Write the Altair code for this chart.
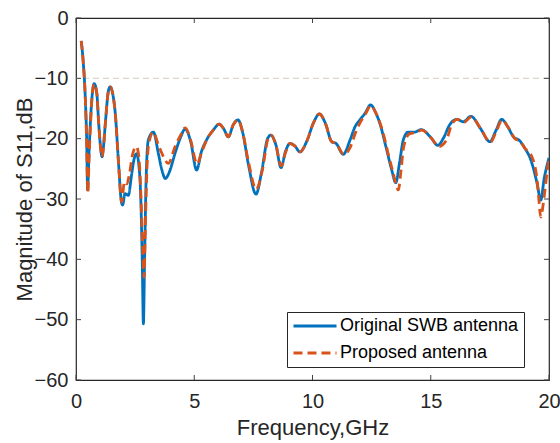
import altair as alt
import pandas as pd

# Original SWB antenna (blue)
blue_f = [0.22, 0.30, 0.39, 0.45, 0.49, 0.55, 0.60, 0.68, 0.77, 0.88, 0.96, 1.04, 1.10, 1.17, 1.24, 1.38, 1.45,
          1.55, 1.66, 1.80, 1.92, 1.97, 2.07, 2.21, 2.35, 2.45, 2.56, 2.66, 2.74, 2.80, 2.85, 2.90, 2.97, 3.06,
          3.27, 3.48, 3.62, 3.78, 3.95, 4.19, 4.40, 4.62, 4.85, 5.10, 5.30, 5.55, 5.80, 6.05, 6.25, 6.44, 6.65,
          6.85, 7.05, 7.30, 7.61, 7.85, 8.10, 8.24, 8.45, 8.67, 8.85, 9.05, 9.25, 9.47, 9.75, 10.05, 10.29,
          10.55, 10.81, 11.00, 11.30, 11.59, 11.80, 12.00, 12.22, 12.46, 12.65, 12.85, 13.14, 13.35, 13.52,
          13.68, 13.84, 14.05, 14.33, 14.60, 15.00, 15.30, 15.55, 15.80, 16.10, 16.38, 16.70, 17.10, 17.50,
          17.75, 18.00, 18.25, 18.50, 18.75, 18.98, 19.20, 19.34, 19.50, 19.65, 19.80, 19.90, 20.00]
blue_db = [-3.8, -7.0, -13.0, -20.0, -28.5, -22.5, -18.0, -13.0, -10.9, -12.5, -17.5, -21.5, -23.0, -21.0, -17.5,
           -11.9, -11.4, -12.5, -15.8, -24.1, -30.5, -31.0, -29.1, -29.4, -26.0, -23.5, -22.5, -24.5, -30.0,
           -40.0, -50.7, -40.0, -26.0, -20.2, -18.9, -22.4, -25.0, -26.6, -25.5, -22.4, -20.0, -18.4, -20.5,
           -25.2, -22.2, -20.0, -18.6, -17.6, -18.4, -19.7, -17.7, -16.9, -19.0, -24.5, -29.2, -25.5, -20.0,
           -19.4, -21.0, -24.8, -22.2, -20.8, -21.2, -22.2, -20.5, -17.3, -15.9, -17.5, -20.5, -20.8, -22.6,
           -20.2, -18.0, -16.9, -15.8, -14.4, -15.5, -17.5, -21.9, -25.2, -27.3, -24.0, -20.2, -18.9, -18.9,
           -18.5, -19.8, -21.1, -19.8, -17.7, -16.8, -17.2, -16.3, -18.3, -20.5, -18.7, -16.8, -18.0, -19.7,
           -20.3, -21.6, -23.2, -24.9, -27.5, -30.2, -26.5, -24.7, -23.2]

# Proposed antenna (orange, dashed)
orange_f = [0.22, 0.30, 0.39, 0.45, 0.50, 0.56, 0.61, 0.68, 0.77, 0.88, 0.96, 1.04, 1.10, 1.17, 1.24, 1.38, 1.45,
            1.55, 1.66, 1.80, 1.93, 2.05, 2.15, 2.25, 2.40, 2.55, 2.66, 2.75, 2.82, 2.88, 2.93, 3.00, 3.08,
            3.27, 3.48, 3.70, 3.90, 4.19, 4.40, 4.62, 4.85, 5.12, 5.32, 5.55, 5.80, 6.05, 6.25, 6.44, 6.65,
            6.85, 7.05, 7.30, 7.62, 7.88, 8.12, 8.25, 8.45, 8.68, 8.87, 9.05, 9.25, 9.47, 9.75, 10.05, 10.29,
            10.55, 10.81, 11.00, 11.32, 11.59, 11.82, 12.02, 12.24, 12.47, 12.66, 12.99, 13.20, 13.40, 13.63,
            13.75, 13.85, 14.10, 14.35, 14.62, 15.02, 15.35, 15.67, 15.88, 16.12, 16.40, 16.72, 17.12, 17.52,
            17.77, 18.02, 18.27, 18.56, 18.80, 19.00, 19.20, 19.48, 19.57, 19.65, 19.75, 19.83, 19.92, 20.00]
orange_db = [-3.8, -7.0, -13.0, -20.5, -29.0, -22.5, -18.0, -13.0, -10.9, -12.5, -17.5, -21.5, -23.0, -21.0,
             -17.5, -11.9, -11.4, -12.5, -15.8, -24.1, -30.5, -27.1, -27.5, -26.0, -22.5, -21.3, -23.0, -30.0,
             -38.0, -43.0, -35.0, -25.0, -20.8, -18.9, -21.0, -23.0, -24.1, -21.3, -19.6, -18.2, -20.3, -24.2,
             -22.2, -20.0, -18.6, -17.6, -18.4, -19.7, -17.7, -16.9, -19.0, -24.0, -28.4, -25.2, -20.0, -19.4,
             -21.0, -24.5, -22.2, -20.8, -21.2, -22.2, -20.5, -17.3, -15.9, -17.5, -20.5, -20.8, -22.6, -21.5,
             -19.0, -17.3, -15.9, -14.5, -15.6, -19.1, -22.5, -25.5, -28.5, -25.0, -21.5, -19.2, -19.0, -18.6,
             -19.9, -21.3, -20.2, -17.7, -16.8, -17.3, -16.4, -18.4, -20.6, -18.8, -16.9, -18.1, -20.0, -20.5,
             -21.7, -22.4, -26.3, -30.0, -33.0, -31.0, -28.5, -25.5, -23.5]

x_ticks = [0, 5, 10, 15, 20]
y_ticks = [0, -10, -20, -30, -40, -50, -60]
ref_level = [-10]

series_names = ["Original SWB antenna", "Proposed antenna"]
series_colors = ["#0072BD", "#D95319"]

W, H = 473, 362
FONT = "Liberation Sans"

df = pd.concat([
    pd.DataFrame({"f": blue_f, "db": blue_db, "s": series_names[0], "o": 0}),
    pd.DataFrame({"f": orange_f, "db": orange_db, "s": series_names[1], "o": 1}),
])

xs = alt.Scale(domain=[0, 20], nice=False)
ys = alt.Scale(domain=[-60, 0], nice=False)

base_x = alt.X("f:Q", scale=xs,
               axis=alt.Axis(values=x_ticks, title="Frequency,GHz", grid=False, ticks=False, domain=False,
                             labelFontSize=20, titleFontSize=22, labelPadding=11, titlePadding=6,
                             labelColor="#262626", titleColor="#262626", labelFont=FONT, titleFont=FONT,
                             titleFontWeight="normal", labelFlush=False))
base_y = alt.Y("db:Q", scale=ys,
               axis=alt.Axis(values=y_ticks, title="Magnitude of S11,dB", grid=False, ticks=False, domain=False,
                             labelFontSize=20, titleFontSize=22, labelPadding=8, titlePadding=-2,
                             labelColor="#262626", titleColor="#262626", labelFont=FONT, titleFont=FONT,
                             titleFontWeight="normal"))

leg = alt.Legend(title=None, orient="none", legendX=211, legendY=294,
                 symbolType="stroke", symbolSize=1850, symbolStrokeWidth=2.8,
                 labelFontSize=18, labelFont=FONT, labelColor="#000000",
                 clipHeight=18, rowPadding=9, padding=5, labelOffset=2,
                 strokeColor="#262626", fillColor="#ffffff", cornerRadius=0,
                 labelLimit=400)

lines = alt.Chart(df).mark_line(interpolate="monotone", strokeWidth=2.8, clip=True).encode(
    x=base_x,
    y=base_y,
    color=alt.Color("s:N", scale=alt.Scale(domain=series_names, range=series_colors), legend=leg),
    strokeDash=alt.StrokeDash("s:N", scale=alt.Scale(domain=series_names, range=[[1, 0], [9, 5]]), legend=leg),
    order="o:Q",
    detail="s:N",
)

ref = alt.Chart(pd.DataFrame({"v": ref_level})).mark_rule(
    color="#dcd6cc", strokeWidth=1.2, strokeDash=[6, 4]
).encode(y=alt.Y("v:Q", scale=ys))

xt = pd.DataFrame({"t": x_ticks})
yt = pd.DataFrame({"t": y_ticks})
tick_color = "#404040"
xb = alt.Chart(xt).mark_rule(color=tick_color, strokeWidth=1).encode(
    x=alt.X("t:Q", scale=xs), y=alt.value(H), y2=alt.value(H - 5))
xtop = alt.Chart(xt).mark_rule(color=tick_color, strokeWidth=1).encode(
    x=alt.X("t:Q", scale=xs), y=alt.value(0), y2=alt.value(5))
yl = alt.Chart(yt).mark_rule(color=tick_color, strokeWidth=1).encode(
    y=alt.Y("t:Q", scale=ys), x=alt.value(0), x2=alt.value(5))
yr = alt.Chart(yt).mark_rule(color=tick_color, strokeWidth=1).encode(
    y=alt.Y("t:Q", scale=ys), x=alt.value(W), x2=alt.value(W - 5))

chart = alt.layer(ref, lines, xb, xtop, yl, yr).properties(
    width=W, height=H,
    autosize=alt.AutoSizeParams(type="none"),
    padding={"left": 76, "top": 18, "right": 11, "bottom": 63},
    background="white",
).configure_view(stroke="#262626", strokeWidth=1.2)

chart.save("out.html", embed_options={"renderer": "svg", "actions": False})
